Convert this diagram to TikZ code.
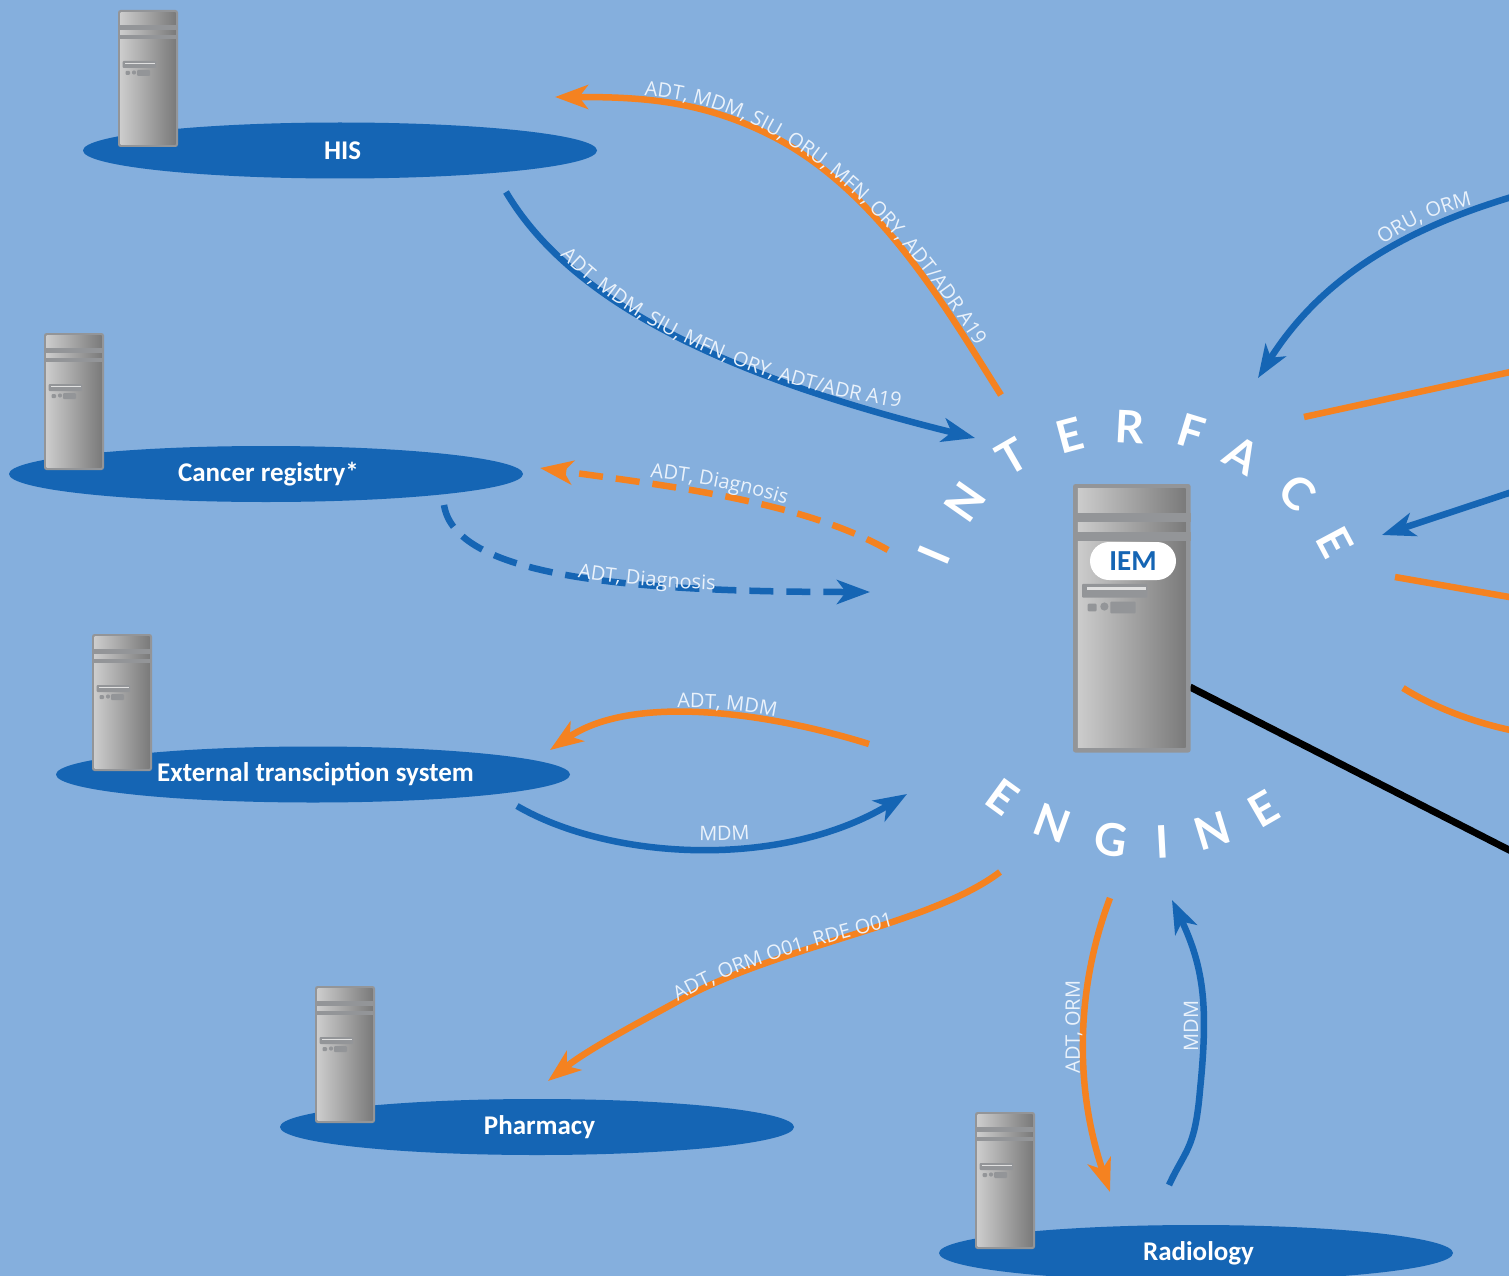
\documentclass[tikz,border=0pt]{standalone}
\usepackage{fontspec}
\setmainfont{Carlito}
\newfontfamily\lblfamily{Open Sans}
\newfontfamily\bigfamily{Lato}
\usetikzlibrary{arrows.meta,decorations.text,shapes.geometric}
\definecolor{bgblue}{HTML}{85AFDD}
\definecolor{dkblue}{HTML}{1565B4}
\definecolor{orng}{HTML}{F58220}
\definecolor{lblwhite}{HTML}{EAF2FB}
\definecolor{srvgray}{HTML}{939598}
\newcommand{\lblfont}{\lblfamily\fontsize{20}{20}\selectfont\color{lblwhite}}
\newcommand{\srv}[3]{%
 \begin{scope}[shift={(#1,#2)},scale=#3]
  \fill[srvgray,rounded corners=2.5pt] (0,0) rectangle (60,137);
  \shade[left color=black!20,right color=black!52] (2.5,2.5) rectangle (57.5,134.5);
  \fill[srvgray] (0,14.8) rectangle (60,19.6);
  \fill[srvgray] (0,24.6) rectangle (60,29);
  \fill[srvgray,rounded corners=1pt] (4.6,51) rectangle (38,58);
  \fill[black!12] (7,52.7) rectangle (37,54);
  \fill[srvgray,rounded corners=1pt] (7.5,61) rectangle (12,65);
  \fill[srvgray] (16,62.5) circle (2.1);
  \fill[srvgray,rounded corners=1pt] (19,60) rectangle (32,66);
 \end{scope}}
\tikzset{
  oval/.style={ellipse,fill=dkblue,minimum width=514pt,minimum height=56pt,inner sep=0pt,text=white,font=\fontsize{27}{27}\selectfont\bfseries},
  bigletter/.style={text=white,inner sep=0pt,font=\bigfamily\fontsize{45}{45}\selectfont\bfseries},
  link/.style={line width=6.5pt},
  orangelink/.style={link,draw=orng},
  bluelink/.style={link,draw=dkblue},
  tip/.style={-{Stealth[length=33pt,width=24pt,inset=9pt]}},
  dashlink/.style={dash pattern=on 24pt off 13pt},
  pathlabel/.style={decorate,decoration={text along path,text={|\lblfont|#1},text align=center}},
  uplabel/.style={text=lblwhite,font=\lblfamily\fontsize{20}{20}\selectfont,inner sep=0pt,rotate=90},
}
\begin{document}
\begin{tikzpicture}[x=1pt,y=-1pt]
\useasboundingbox (0,0) rectangle (1509,1276);
\clip (0,0) rectangle (1509,1276);
\fill[bgblue] (0,0) rectangle (1509,1276);
% end points
\coordinate (hisOutA) at (1001,395); \coordinate (hisOutB) at (555,97);
\coordinate (hisInA) at (506,192); \coordinate (hisInB) at (975,438);
\coordinate (canOutA) at (888,550); \coordinate (canOutB) at (540,468);
\coordinate (canInA) at (444,505); \coordinate (canInB) at (870,592);
\coordinate (extOutA) at (869,744); \coordinate (extOutB) at (550,750);
\coordinate (extInA) at (517,806); \coordinate (extInB) at (907,794);
\coordinate (phaA) at (1000,872); \coordinate (phaB) at (548,1081);
\coordinate (radOutA) at (1110,898); \coordinate (radOutB) at (1110,1192);
\coordinate (radInA) at (1169,1185); \coordinate (radInB) at (1172,900);
\coordinate (r1A) at (1515,196); \coordinate (r1B) at (1258,378);
\coordinate (r2A) at (1304,417); \coordinate (r2B) at (1515,371);
\coordinate (r3A) at (1515,491); \coordinate (r3B) at (1382,535);
\coordinate (r4A) at (1395,577); \coordinate (r4B) at (1515,598);
\coordinate (r5A) at (1403,688); \coordinate (r5B) at (1515,731);
\coordinate (blA) at (1190,687); \coordinate (blB) at (1515,853);
% systems
\node[oval] (his) at (340,150.5) {\hspace*{5pt}HIS};
\srv{118}{10}{1}
\node[oval] (cancer) at (266,474) {\hspace*{5pt}Cancer registry*};
\srv{44}{333}{1}
\node[oval] (ext) at (313,774.5) {\hspace*{5pt}External transciption system};
\srv{92}{634}{1}
\node[oval] (pharm) at (537,1127) {\hspace*{5pt}Pharmacy};
\srv{315}{986}{1}
\node[oval] (radio) at (1196,1253) {\hspace*{5pt}Radiology};
\srv{975}{1112}{1}
% connectors
\draw[orangelink,tip] (hisOutA) .. controls (950,315) and (880,190) .. (770,135) .. controls (700,100) and (640,97) .. (hisOutB);
\draw[bluelink,tip] (hisInA) .. controls (570,300) and (720,375) .. (hisInB);
\draw[orangelink,dashlink,tip] (canOutA) .. controls (800,500) and (660,485) .. (canOutB);
\draw[bluelink,dashlink,tip] (canInA) .. controls (455,575) and (620,592) .. (canInB);
\draw[orangelink,tip] (extOutA) .. controls (760,710) and (630,695) .. (extOutB);
\draw[bluelink,tip] (extInA) .. controls (610,860) and (780,870) .. (extInB);
\draw[orangelink,tip] (phaA) .. controls (930,925) and (780,945) .. (680,1000) .. controls (640,1022) and (590,1048) .. (phaB);
\draw[orangelink,tip] (radOutA) .. controls (1075,990) and (1075,1090) .. (radOutB);
\draw[bluelink,tip] (radInA) .. controls (1185,1150) and (1195,1150) .. (1200,1090) .. controls (1208,1010) and (1205,970) .. (radInB);
\draw[bluelink,tip] (r1A) .. controls (1400,230) and (1320,280) .. (r1B);
\draw[orangelink] (r2A) -- (r2B);
\draw[bluelink,tip] (r3A) -- (r3B);
\draw[orangelink] (r4A) -- (r4B);
\draw[orangelink] (r5A) .. controls (1430,705) and (1470,722) .. (r5B);
\draw[line width=7pt,black] (blA) -- (blB);
% central server
\srv{1073}{484}{1.96}
\node[rounded rectangle/.try,fill=white,rounded corners=19pt,minimum width=86pt,minimum height=38pt,inner sep=0pt,text=dkblue,font=\fontsize{29}{29}\selectfont\bfseries] (iem) at (1133,561) {IEM};
% path labels
\path[pathlabel={ADT, MDM, SIU, ORU, MFN, ORY, ADT/ADR A19}] (640,95) .. controls (740,100) and (860,160) .. (978,350);
\path[pathlabel={ADT, MDM, SIU, MFN, ORY, ADT/ADR A19}] (558,253) .. controls (620,320) and (740,385) .. (903,408);
\path[pathlabel={ADT, Diagnosis}] (648,477) .. controls (695,482) and (740,490) .. (788,505);
\path[pathlabel={ADT, Diagnosis}] (576,577) .. controls (620,585) and (670,588) .. (717,590);
\path[pathlabel={ADT, MDM}] (675,708) .. controls (710,707) and (745,710) .. (778,717);
\path[pathlabel={MDM}] (695,840) .. controls (715,841) and (735,841) .. (754,839);
\path[pathlabel={ADT, ORM O01, RDE O01}] (678,1002) .. controls (740,965) and (820,945) .. (894,926);
\path[pathlabel={ORU, ORM}] (1380,247) .. controls (1410,225) and (1440,212) .. (1476,204);
\node[uplabel] (lblrad1) at (1074,1027) {ADT, ORM};
\node[uplabel] (lblrad2) at (1191,1026) {MDM};
% big letters
\node[bigletter,rotate=67] (i1) at (934,555) {I};
\node[bigletter,rotate=55] (i2) at (965,502) {N};
\node[bigletter,rotate=30] (i3) at (1012,457) {T};
\node[bigletter,rotate=15] (i4) at (1070,435) {E};
\node[bigletter,rotate=-3] (i5) at (1130,427) {R};
\node[bigletter,rotate=-17] (i6) at (1191,432) {F};
\node[bigletter,rotate=-30] (i7) at (1242,455) {A};
\node[bigletter,rotate=-45] (i8) at (1298,493) {C};
\node[bigletter,rotate=-62] (i9) at (1335,542) {E};
\node[bigletter,rotate=-36] (e1) at (1003,797) {E};
\node[bigletter,rotate=-20] (e2) at (1052,823) {N};
\node[bigletter,rotate=-8] (e3) at (1111,840) {G};
\node[bigletter,rotate=3] (e4) at (1162,842) {I};
\node[bigletter,rotate=17] (e5) at (1212,831) {N};
\node[bigletter,rotate=30] (e6) at (1264,809) {E};
\end{tikzpicture}
\end{document}
